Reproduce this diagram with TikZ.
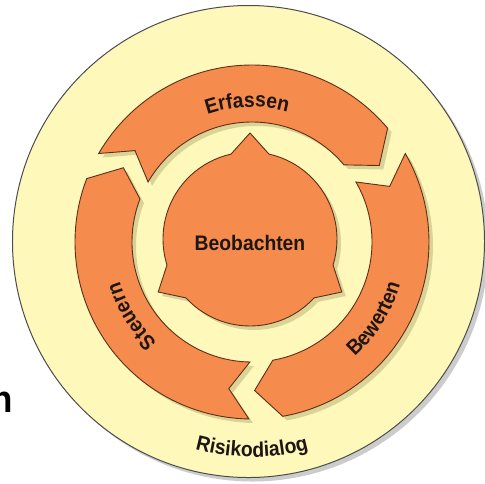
\documentclass[tikz,border=0pt]{standalone}
\usepackage{fontspec}
\setmainfont{Liberation Sans}[FakeStretch=0.92]
\usetikzlibrary{shadows,decorations.text}

\definecolor{ringorange}{RGB}{245,139,76}
\definecolor{paleyellow}{RGB}{255,248,187}
\definecolor{edgebrown}{RGB}{92,48,24}
\definecolor{textblack}{RGB}{30,22,18}
\newcommand{\lbl}{\fontsize{10.5}{12}\selectfont\bfseries}

\begin{document}
\begin{tikzpicture}[x=0.5pt, y=0.5pt,
  bg/.style={fill=paleyellow, draw=black!70, line width=0.5pt,
    drop shadow={shadow xshift=2pt, shadow yshift=-2pt, opacity=0.4, fill=black!50}},
  piece/.style={fill=ringorange, draw=edgebrown, line width=0.45pt,
    drop shadow={shadow xshift=2pt, shadow yshift=-2pt, opacity=0.3, fill=black!55!yellow}},
  arctext/.style={decorate, decoration={text along path, text align=center,
    text color=textblack, text={|\lbl|#1}}}]
  \useasboundingbox (-250,-240) rectangle (235,243);

  % outer disc
  \draw[bg] (-1.5,1.5) circle[radius=236];

  % the three ring arrows
  \begin{scope}[shift={(2,1)}]
    \foreach \s in {150,30,-91} {
      \pgfmathsetmacro\e{\s-110}
      \draw[piece] (\s:177) arc[start angle=\s, end angle=\e, radius=177]
        -- ({\e-9}:148.5) -- (\e:120)
        arc[start angle=\e, end angle=\s, radius=120]
        -- ({\s-8}:148.5) -- cycle;
    }
    \path[arctext=Erfassen] (122:135) arc[start angle=122, end angle=62, radius=135];
    \path[arctext=Steuern] (241.5:138) arc[start angle=241.5, end angle=181.5, radius=138];
    \path[arctext=Bewerten] (-62:154) arc[start angle=-62, end angle=-2, radius=154];
    \path[arctext=Risikodialog] (-130:215) arc[start angle=-130, end angle=-50, radius=215];
  \end{scope}

  % centre with three spikes
  \begin{scope}[shift={(0,4)}]
    \draw[piece] (102.6:87) arc[start angle=102.6, end angle=197.4, radius=87]
      -- (210:106) -- (222.6:87) arc[start angle=222.6, end angle=317.4, radius=87]
      -- (330:106) -- (342.6:87) arc[start angle=342.6, end angle=437.4, radius=87]
      -- (90:106) -- cycle;
  \end{scope}
  \node[font=\lbl, text=textblack] (beob) at (0,0) {Beobachten};

  \node[font=\fontsize{19}{20}\selectfont\bfseries, anchor=east, inner sep=0pt] (cutn) at (-237,-159) {n};
\end{tikzpicture}
\end{document}
